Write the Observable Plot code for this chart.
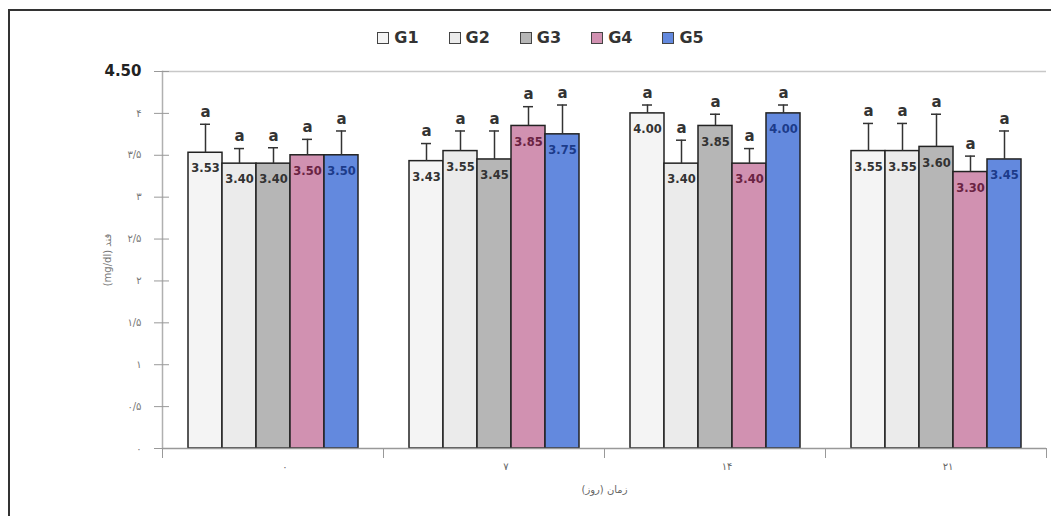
<!DOCTYPE html>
<html>
<head>
<meta charset="utf-8">
<script src="https://cdn.jsdelivr.net/npm/d3@7"></script>
<script src="https://cdn.jsdelivr.net/npm/@observablehq/plot@0.6"></script>
<style>
  html, body { margin: 0; padding: 0; background: #fff; }
  #wrap { position: relative; width: 1051px; height: 516px; overflow: hidden; font-family: "DejaVu Sans", sans-serif; }
  #border { position: absolute; left: 8px; top: 9px; right: -5px; bottom: -5px; border-left: 2px solid #333; border-top: 2px solid #333; }
  #legend { position: absolute; top: 28px; left: 0; width: 1081px; display: flex; justify-content: center; gap: 30px; }
  .item { display: flex; align-items: center; gap: 5px; font-weight: bold; font-size: 16px; color: #333; }
  .sw { width: 10px; height: 10px; border: 1.5px solid #444; }
  #chart { position: absolute; left: 0; top: 55px; }
</style>
</head>
<body>
<div id="wrap">
  <div id="border"></div>
  <div id="legend"></div>
  <div id="chart"></div>
</div>
<script>
const days = ["0", "7", "14", "21"];
const dayLabels = ["٠", "۷", "۱۴", "۲۱"];
const groups = ["G1", "G2", "G3", "G4", "G5"];
const colors = ["#f4f4f4", "#ebebeb", "#b6b6b6", "#d191b1", "#6389de"];
const textColors = ["#333", "#333", "#333", "#6a2343", "#1c3b8a"];

const meanG1 = [3.53, 3.43, 4.00, 3.55];
const meanG2 = [3.40, 3.55, 3.40, 3.55];
const meanG3 = [3.40, 3.45, 3.85, 3.60];
const meanG4 = [3.50, 3.85, 3.40, 3.30];
const meanG5 = [3.50, 3.75, 4.00, 3.45];

const errG1 = [0.34, 0.21, 0.10, 0.33];
const errG2 = [0.18, 0.24, 0.28, 0.33];
const errG3 = [0.19, 0.34, 0.14, 0.39];
const errG4 = [0.19, 0.23, 0.18, 0.19];
const errG5 = [0.29, 0.35, 0.10, 0.34];

const letters = ["a", "a", "a", "a"];

const yTicks = [0, 0.5, 1, 1.5, 2, 2.5, 3, 3.5, 4, 4.5];
const yLabels = ["٠", "٠/۵", "۱", "۱/۵", "۲", "۲/۵", "۳", "۳/۵", "۴", "4.50"];

const yTitle = "(mg/dl) قند";
const xTitle = "زمان (روز)";

const means = [meanG1, meanG2, meanG3, meanG4, meanG5];
const errs = [errG1, errG2, errG3, errG4, errG5];

const data = [];
groups.forEach((g, gi) => {
  days.forEach((d, di) => {
    data.push({day: d, group: g, mean: means[gi][di], top: means[gi][di] + errs[gi][di], letter: letters[di], tc: textColors[gi]});
  });
});

// legend
const leg = document.getElementById("legend");
groups.forEach((g, i) => {
  const it = document.createElement("div");
  it.className = "item";
  const sw = document.createElement("div");
  sw.className = "sw";
  sw.style.background = colors[i];
  const t = document.createElement("span");
  t.textContent = g;
  it.appendChild(sw); it.appendChild(t);
  leg.appendChild(it);
});

const plotH = 461, mT = 16, mB = 68;
const innerH = plotH - mT - mB;

const chart = Plot.plot({
  width: 1051,
  height: plotH,
  marginLeft: 162,
  marginRight: 5,
  marginTop: mT,
  marginBottom: mB,
  style: {fontFamily: "DejaVu Sans, sans-serif", background: "transparent"},
  fx: {domain: days, padding: 0},
  x: {domain: groups, paddingInner: 0, paddingOuter: 0.71, axis: null},
  y: {domain: [0, 4.5]},
  color: {domain: groups, range: colors},
  marks: [
    Plot.ruleY([4.5], {stroke: "#c8c8c8", strokeWidth: 1.5}),
    Plot.frame({anchor: "left", facetAnchor: "left", stroke: "#b0b0b0", strokeWidth: 1.5}),
    Plot.frame({anchor: "left", insetTop: innerH, insetBottom: -9, stroke: "#999"}),
    Plot.frame({anchor: "right", insetTop: innerH, insetBottom: -9, stroke: "#999"}),
    Plot.tickY(yTicks, {y: d => d, facetAnchor: "left", insetRight: 214, stroke: "#999"}),
    Plot.barY(data, {fx: "day", x: "group", y: "mean", fill: "group", stroke: "#222", strokeWidth: 1.5}),
    Plot.ruleX(data, {fx: "day", x: "group", y1: "mean", y2: "top", stroke: "#333", strokeWidth: 1.5}),
    Plot.tickY(data, {fx: "day", x: "group", y: "top", stroke: "#333", strokeWidth: 1.5, insetLeft: 12, insetRight: 12}),
    Plot.text(data, {fx: "day", x: "group", y: "top", text: "letter", dy: -12, fontSize: 15, fontWeight: "bold", fill: "#333"}),
    Plot.text(data, {fx: "day", x: "group", y: "mean", text: d => d3.format(".2f")(d.mean), dy: 16, fontSize: 11.5, fontWeight: "bold", fill: "tc"}),
    Plot.ruleY([0], {stroke: "#999", strokeWidth: 1.5}),
    Plot.axisY({ticks: yTicks, tickFormat: (d, i) => yLabels[yTicks.indexOf(d)], tickSize: 8, tickPadding: 13, stroke: "#999", color: "#777", fontSize: 10, label: yTitle, labelAnchor: "center", labelOffset: 59, labelArrow: "none"}),
    Plot.axisFx({anchor: "bottom", tickSize: 0, tickPadding: 14, tickFormat: d => dayLabels[days.indexOf(d)], dx: 12, color: "#666", fontSize: 10, label: xTitle, labelAnchor: "center", labelOffset: 44, labelArrow: "none"})
  ]
});
document.getElementById("chart").appendChild(chart);

// style top tick label like the reference
d3.select(chart).selectAll("text").filter(function() { return this.textContent === "4.50"; })
  .attr("font-weight", "bold").attr("font-size", 15).attr("fill", "#222");
</script>
</body>
</html>
